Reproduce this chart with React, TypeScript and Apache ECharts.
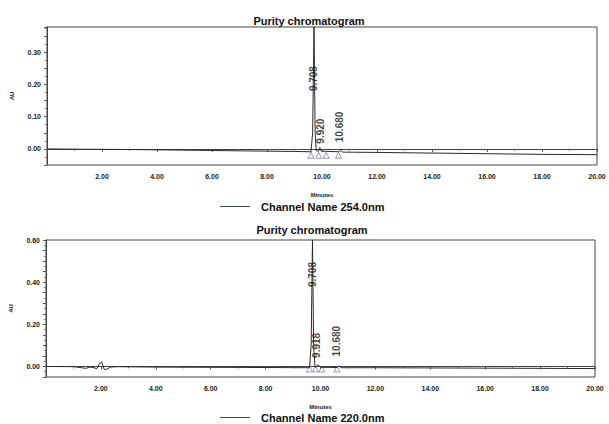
import React, { useEffect, useRef } from "react";
import * as echarts from "echarts";

// ---- Data ----
const topTimes = [0, 1, 3, 5, 7, 9, 9.6, 9.66, 9.708, 9.75, 9.79, 9.88, 9.92, 9.97, 10.62, 10.68, 10.74, 12, 14, 16, 18, 20];
const topAU = [0, -0.001, -0.002, -0.004, -0.006, -0.008, -0.009, 0.05, 0.378, 0.05, -0.006, -0.007, 0.004, -0.007, -0.009, -0.004, -0.01, -0.011, -0.013, -0.015, -0.017, -0.018];

const botTimes = [0, 1, 1.3, 1.45, 1.6, 1.75, 1.85, 1.95, 2.03, 2.12, 2.2, 2.35, 2.6, 4, 6, 8, 9.6, 9.66, 9.708, 9.75, 9.8, 9.918, 10, 10.62, 10.68, 10.75, 12, 14, 16, 18, 20];
const botAU = [0, -0.001, -0.006, -0.009, -0.003, -0.006, -0.011, 0.014, 0.022, -0.014, -0.014, -0.003, -0.001, -0.003, -0.004, -0.005, -0.006, 0.1, 0.6, 0.1, -0.004, 0.008, -0.004, -0.005, 0.003, -0.006, -0.006, -0.007, -0.008, -0.009, -0.01];

const topPeakLabels = ["9.708", "9.920", "10.680"];
const topPeakLabelX = [9.708, 9.96, 10.62];
const topPeakLabelY = [0.218, 0.055, 0.068];
const botPeakLabels = ["9.708", "9.918", "10.680"];
const botPeakLabelX = [9.708, 9.84, 10.6];
const botPeakLabelY = [0.436, 0.1, 0.12];

const topMarkX = [9.6, 9.88, 10.15, 10.6];
const topMarkY = [-0.02, -0.02, -0.02, -0.02];
const botMarkX = [9.6, 9.82, 10.05, 10.6];
const botMarkY = [-0.012, -0.012, -0.012, -0.012];

const xTickLabels = ["2.00", "4.00", "6.00", "8.00", "10.00", "12.00", "14.00", "16.00", "18.00", "20.00"];
const topYLabels = [0, 0.1, 0.2, 0.3];
const botYLabels = [0, 0.2, 0.4, 0.6];

const titleText = "Purity chromatogram";
const topSeriesName = "Channel Name 254.0nm";
const botSeriesName = "Channel Name 220.0nm";

const FONT = "Liberation Sans, Arial, sans-serif";

function App() {
  const ref = useRef<HTMLDivElement>(null);
  useEffect(() => {
    if (!ref.current) return;
    const chart = echarts.init(ref.current, undefined, { renderer: "svg" });

    const xAxisBase = (gridIndex: number) => ({
      type: "value",
      gridIndex,
      min: 0,
      max: 20,
      interval: 2,
      name: "Minutes",
      nameLocation: "middle",
      nameGap: 27,
      nameTextStyle: { fontSize: 6, fontWeight: "bold", color: "#222", fontFamily: FONT },
      axisLine: { show: true, lineStyle: { color: "#444", width: 1 } },
      axisTick: { show: true, length: 3, lineStyle: { color: "#555" } },
      minorTick: { show: true, splitNumber: 2, length: 2, lineStyle: { color: "#777" } },
      splitLine: { show: false },
      axisLabel: {
        fontSize: 7,
        fontWeight: "bold",
        color: "#222",
        fontFamily: FONT,
        margin: 8,
        formatter: (v: number) => {
          const s = v.toFixed(2);
          return xTickLabels.includes(s) ? s : "";
        },
      },
    });

    const yAxisBase = (gridIndex: number, min: number, max: number, labels: number[]) => ({
      type: "value",
      gridIndex,
      min,
      max,
      interval: 0.05,
      name: "AU",
      nameLocation: "middle",
      nameRotate: 90,
      nameGap: 32,
      nameTextStyle: { fontSize: 6, fontWeight: "bold", color: "#222", fontFamily: FONT },
      axisLine: { show: true, lineStyle: { color: "#444", width: 1 } },
      axisTick: { show: true, length: 3, lineStyle: { color: "#555" } },
      minorTick: { show: true, splitNumber: 2, length: 2, lineStyle: { color: "#777" } },
      splitLine: { show: false },
      axisLabel: {
        fontSize: 7,
        fontWeight: "bold",
        color: "#222",
        fontFamily: FONT,
        margin: 6,
        formatter: (v: number) => (labels.some((l) => Math.abs(l - v) < 1e-6) ? v.toFixed(2) : ""),
      },
    });

    const labelSeries = (idx: number, names: string[], xs: number[], ys: number[]) => ({
      type: "scatter",
      xAxisIndex: idx,
      yAxisIndex: idx,
      symbolSize: 0,
      silent: true,
      data: names.map((n, i) => ({ name: n, value: [xs[i], ys[i]] })),
      label: {
        show: true,
        position: "inside",
        rotate: 90,
        formatter: (p: any) => p.name,
        fontSize: 10,
        fontWeight: "bold",
        color: "#111",
        fontFamily: FONT,
      },
    });

    const markSeries = (idx: number, xs: number[], ys: number[]) => ({
      type: "scatter",
      xAxisIndex: idx,
      yAxisIndex: idx,
      symbol: "triangle",
      symbolSize: [6, 6],
      silent: true,
      data: xs.map((x, i) => [x, ys[i]]),
      itemStyle: { color: "rgba(0,0,0,0)", borderColor: "#8a7ca8", borderWidth: 1 },
    });

    const option: any = {
      animation: false,
      backgroundColor: "#ffffff",
      title: [
        {
          text: titleText,
          left: 304,
          top: 10,
          textAlign: "center",
          textStyle: { fontSize: 11, fontWeight: "bold", color: "#111", fontFamily: FONT },
        },
        {
          text: titleText,
          left: 307,
          top: 219,
          textAlign: "center",
          textStyle: { fontSize: 11, fontWeight: "bold", color: "#111", fontFamily: FONT },
        },
      ],
      legend: [
        {
          data: [topSeriesName],
          left: 220,
          top: 201,
          padding: 0,
          icon: "rect",
          itemWidth: 30,
          itemHeight: 1,
          itemStyle: { color: "#3a4654" },
          textStyle: { fontSize: 11, fontWeight: "bold", color: "#111", fontFamily: FONT, padding: [0, 0, 0, 6] },
        },
        {
          data: [botSeriesName],
          left: 220,
          top: 412,
          padding: 0,
          icon: "rect",
          itemWidth: 30,
          itemHeight: 1,
          itemStyle: { color: "#3a4654" },
          textStyle: { fontSize: 11, fontWeight: "bold", color: "#111", fontFamily: FONT, padding: [0, 0, 0, 6] },
        },
      ],
      grid: [
        { left: 47, right: 12, top: 27, height: 138, show: true, borderColor: "#444", borderWidth: 1 },
        { left: 45, right: 14, top: 240, height: 137, show: true, borderColor: "#444", borderWidth: 1 },
      ],
      xAxis: [xAxisBase(0), xAxisBase(1)],
      yAxis: [yAxisBase(0, -0.05, 0.378, topYLabels), yAxisBase(1, -0.05, 0.6, botYLabels)],
      series: [
        {
          name: topSeriesName,
          type: "line",
          xAxisIndex: 0,
          yAxisIndex: 0,
          showSymbol: false,
          clip: true,
          data: topTimes.map((t, i) => [t, topAU[i]]),
          lineStyle: { color: "#2a2a2a", width: 1 },
          itemStyle: { color: "#3a4654" },
        },
        {
          name: botSeriesName,
          type: "line",
          xAxisIndex: 1,
          yAxisIndex: 1,
          showSymbol: false,
          clip: true,
          data: botTimes.map((t, i) => [t, botAU[i]]),
          lineStyle: { color: "#2a2a2a", width: 1 },
          itemStyle: { color: "#3a4654" },
        },
        markSeries(0, topMarkX, topMarkY),
        markSeries(1, botMarkX, botMarkY),
        labelSeries(0, topPeakLabels, topPeakLabelX, topPeakLabelY),
        labelSeries(1, botPeakLabels, botPeakLabelX, botPeakLabelY),
      ],
    };

    chart.setOption(option);
    return () => chart.dispose();
  }, []);

  return <div ref={ref} style={{ width: 609, height: 424, position: "absolute", left: 0, top: 0 }} />;
}

export default App;
